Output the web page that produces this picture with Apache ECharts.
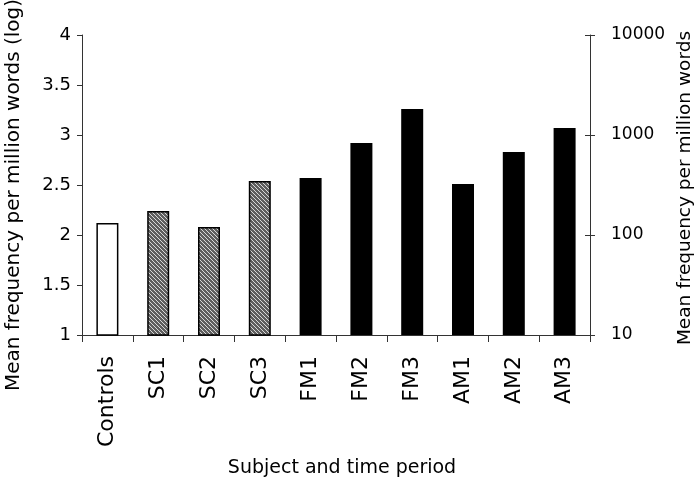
<!DOCTYPE html>
<html>
<head>
<meta charset="utf-8">
<script src="https://cdn.jsdelivr.net/npm/echarts@6/dist/echarts.min.js"></script>
<style>
  html, body { margin: 0; padding: 0; background: #fff; }
  #chart { width: 696px; height: 488px; }
</style>
</head>
<body>
<div id="chart"></div>
<script>
// Subjects / time periods along the x axis
const categories = ['Controls', 'SC1', 'SC2', 'SC3', 'FM1', 'FM2', 'FM3', 'AM1', 'AM2', 'AM3'];
// Mean frequency per million words, log10 scale
const logFrequency = [2.12, 2.24, 2.08, 2.54, 2.57, 2.92, 3.26, 2.51, 2.83, 3.07];
// Which group each bar belongs to (decides its fill)
const groups = ['control', 'sc', 'sc', 'sc', 'fm', 'fm', 'fm', 'am', 'am', 'am'];
// Right-hand axis tick values (raw frequency)
const rawTicks = [10, 100, 1000, 10000];

const FONT = 'DejaVu Sans';

// Diagonal hatch used for the SC bars
function hatch() {
  const c = document.createElement('canvas');
  c.width = 4; c.height = 4;
  const g = c.getContext('2d');
  g.fillStyle = '#5e5e5e';
  g.fillRect(0, 0, 4, 4);
  g.fillStyle = '#d8d8d8';
  for (let i = 0; i < 4; i++) g.fillRect(i, i, 1, 1);
  return c;
}
const hatchFill = { image: hatch(), repeat: 'repeat' };

function styleFor(group) {
  if (group === 'control') return { color: '#ffffff', borderColor: '#000', borderWidth: 1.5 };
  if (group === 'sc') return { color: hatchFill, borderColor: '#000', borderWidth: 1.5 };
  return { color: '#000000', borderColor: '#000', borderWidth: 0 };
}

const chart = echarts.init(document.getElementById('chart'), null, { renderer: 'canvas' });

chart.setOption({
  animation: false,
  backgroundColor: '#ffffff',
  grid: { left: 82, right: 106, top: 35, bottom: 153, containLabel: false, outerBoundsMode: 'none' },
  xAxis: {
    type: 'category',
    data: categories,
    boundaryGap: true,
    axisLine: { lineStyle: { color: '#333', width: 1 } },
    axisTick: { show: true, length: 7, lineStyle: { color: '#333' } },
    axisLabel: {
      rotate: 90, margin: 21, color: '#000',
      fontFamily: FONT, fontSize: 22
    },
    name: 'Subject and time period',
    nameLocation: 'middle',
    nameGap: 124,
    nameTextStyle: { color: '#000', fontFamily: FONT, fontSize: 19, padding: [0, 0, 0, 12] }
  },
  yAxis: [
    {
      type: 'value',
      position: 'left',
      min: 1, max: 4, interval: 0.5,
      splitLine: { show: false },
      axisLine: { show: true, lineStyle: { color: '#333', width: 1 } },
      axisTick: { show: true, length: 5, lineStyle: { color: '#333' } },
      axisLabel: { margin: 11, color: '#000', fontFamily: FONT, fontSize: 18 },
      name: 'Mean frequency per million words (log)',
      nameLocation: 'middle',
      nameRotate: 90,
      nameGap: 58,
      nameTextStyle: { color: '#000', fontFamily: FONT, fontSize: 20, padding: [0, 20, 0, 0] }
    },
    {
      type: 'log',
      logBase: 10,
      position: 'right',
      min: rawTicks[0], max: rawTicks[rawTicks.length - 1],
      splitLine: { show: false },
      axisLine: { show: true, lineStyle: { color: '#333', width: 1 } },
      axisTick: { show: true, length: 5, lineStyle: { color: '#333' } },
      axisLabel: {
        margin: 21, color: '#000', fontFamily: FONT, fontSize: 17,
        formatter: v => String(Math.round(v))
      },
      name: 'Mean frequency per million words',
      nameLocation: 'middle',
      nameRotate: 90,
      nameGap: 86,
      nameTextStyle: { color: '#000', fontFamily: FONT, fontSize: 18.5, padding: [0, 6, 0, 0] }
    },
    {
      // inner half of the crossing ticks on the right-hand axis
      type: 'log',
      logBase: 10,
      position: 'right',
      min: rawTicks[0], max: rawTicks[rawTicks.length - 1],
      splitLine: { show: false },
      axisLine: { show: false },
      axisTick: { show: true, inside: true, length: 5, lineStyle: { color: '#333' } },
      axisLabel: { show: false }
    }
  ],
  series: [{
    type: 'bar',
    yAxisIndex: 0,
    barWidth: 22,
    data: logFrequency.map((v, i) => ({ value: v, itemStyle: styleFor(groups[i]) }))
  }]
});
</script>
</body>
</html>
